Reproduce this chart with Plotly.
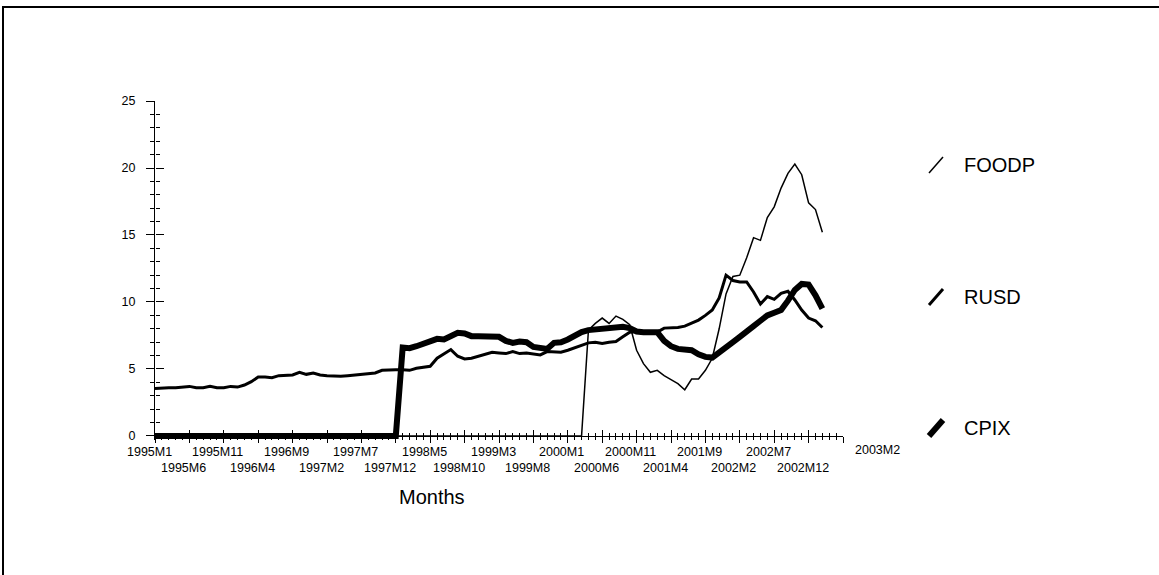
import plotly.graph_objects as go

# ---------------- data ----------------
months = [f"{1995 + i // 12}M{i % 12 + 1}" for i in range(98)]  # 1995M1 .. 2003M2

foodp = [0.0] * 63 + [
    7.9, 8.4, 8.8, 8.4, 8.95, 8.7, 8.3, 6.4, 5.4, 4.75,
    4.9, 4.5, 4.2, 3.9, 3.45, 4.25, 4.25, 4.9, 5.8, 8.0,
    10.6, 11.9, 12.0, 13.3, 14.8, 14.6, 16.3, 17.1, 18.5, 19.6,
    20.3, 19.5, 17.4, 16.9, 15.2]

rusd = [
    3.55, 3.6, 3.6, 3.6, 3.65, 3.7, 3.6, 3.6, 3.7, 3.6,
    3.6, 3.7, 3.65, 3.8, 4.05, 4.4, 4.4, 4.35, 4.5, 4.5,
    4.55, 4.75, 4.6, 4.7, 4.55, 4.5, 4.45, 4.45, 4.5, 4.55,
    4.6, 4.7, 4.7, 4.9, 4.95, 4.95, 4.95, 4.9, 5.05, 5.1,
    5.2, 5.8, 6.1, 6.45, 5.95, 5.75, 5.8, 5.95, 6.1, 6.25,
    6.2, 6.15, 6.3, 6.15, 6.2, 6.15, 6.05, 6.3, 6.25, 6.25,
    6.4, 6.6, 6.8, 6.95, 7.0, 6.9, 7.0, 7.05, 7.4, 7.75,
    7.8, 7.7, 7.75, 7.75, 8.05, 8.05, 8.1, 8.2, 8.4, 8.65,
    9.0, 9.4, 10.3, 12.0, 11.6, 11.5, 11.5, 10.75, 9.85, 10.4,
    10.2, 10.65, 10.8, 10.15, 9.4, 8.8, 8.6, 8.1]

cpix = [0.0] * 36 + [
    6.6, 6.55, 6.7, 6.85, 7.0, 7.25, 7.2, 7.4, 7.7, 7.65,
    7.45, 7.45, 7.45, 7.4, 7.4, 7.1, 6.95, 7.05, 7.0, 6.65,
    6.55, 6.5, 6.95, 7.0, 7.2, 7.5, 7.75, 7.9, 7.95, 8.0,
    8.05, 8.2, 8.15, 8.05, 7.8, 7.75, 7.8, 7.75, 7.1, 6.7,
    6.5, 6.45, 6.4, 6.1, 5.9, 5.85, 6.2, 6.6, 7.0, 7.4,
    7.75, 8.2, 8.6, 9.0, 9.2, 9.4, 10.1, 10.9, 11.35, 11.3,
    10.5, 9.5]

series_names = ["FOODP", "RUSD", "CPIX"]
series_values = [foodp, rusd, cpix]
tick_step = 5
y_tick_values = [0, 5, 10, 15, 20, 25]

# ---------------- layout constants ----------------
W, H = 1159, 575
L, R, T, B = 155, 316, 101, 135
PW, PH = W - L - R, H - T - B
YMIN, YMAX = -0.3, 25
XMIN, XMAX = 0, 100
FONT = "Liberation Sans, Arial, sans-serif"
widths = [1.5, 3, 6]


def px_x(px):
    return (px - L) / PW


def px_y(py):
    return (H - B - py) / PH


axis_pos = (0 - YMIN) / (YMAX - YMIN)  # paper y of value 0

fig = go.Figure()
for name, vals, w in zip(series_names, series_values, widths):
    fig.add_trace(go.Scatter(
        x=list(range(len(vals))), y=vals, mode="lines", name=name,
        line=dict(color="black", width=w), showlegend=False))

# dummy trace for the overlay axes that draw the inner half of the ticks
fig.add_trace(go.Scatter(x=[None], y=[None], xaxis="x2", yaxis="y2",
                         showlegend=False, hoverinfo="skip"))

major_x = list(range(0, XMAX + 1, tick_step))
common_x = dict(range=[XMIN, XMAX], tickmode="array", tickvals=major_x,
                showgrid=False, zeroline=False, tickcolor="black", tickwidth=1,
                anchor="free", position=axis_pos)
fig.update_layout(
    xaxis=dict(**common_x, showline=True, linecolor="black", linewidth=1,
               ticks="outside", ticklen=6, showticklabels=False,
               minor=dict(tickmode="linear", tick0=0, dtick=1, ticks="outside",
                          ticklen=3, tickcolor="black", tickwidth=1, showgrid=False)),
    xaxis2=dict(**common_x, overlaying="x", showline=False, ticks="inside",
                ticklen=6, showticklabels=False,
                minor=dict(tickmode="linear", tick0=0, dtick=1, ticks="inside",
                           ticklen=3, tickcolor="black", tickwidth=1, showgrid=False)),
    yaxis=dict(range=[YMIN, YMAX], tickmode="array", tickvals=y_tick_values,
               showgrid=False, zeroline=False, showline=True, linecolor="black",
               linewidth=1, ticks="outside", ticklen=8, tickcolor="black",
               tickwidth=1, ticklabelstandoff=8,
               tickfont=dict(family=FONT, size=12.5, color="black"),
               minor=dict(tickmode="linear", tick0=0, dtick=1, ticks="outside",
                          ticklen=4, tickcolor="black", tickwidth=1, showgrid=False)),
    yaxis2=dict(range=[YMIN, YMAX], overlaying="y", anchor="free", position=0,
                tickmode="array", tickvals=y_tick_values, showgrid=False,
                zeroline=False, showline=False, ticks="inside", ticklen=8,
                tickcolor="black", tickwidth=1, showticklabels=False,
                minor=dict(tickmode="linear", tick0=0, dtick=1, ticks="inside",
                           ticklen=4, tickcolor="black", tickwidth=1, showgrid=False)),
    width=W, height=H, autosize=False,
    margin=dict(l=L, r=R, t=T, b=B, pad=0),
    paper_bgcolor="white", plot_bgcolor="white",
    font=dict(family=FONT, color="black"),
)

annotations = []
# x tick labels, alternating rows
for k, idx in enumerate(major_x[:-1]):
    if idx >= len(months):
        break
    annotations.append(dict(x=idx, y=axis_pos, xref="x", yref="paper",
                            text=months[idx], showarrow=False, xanchor="center",
                            yanchor="middle", xshift=-6,
                            yshift=-16 if k % 2 == 0 else -32,
                            font=dict(family=FONT, size=12.5, color="black")))
# last month label at far right
annotations.append(dict(x=len(months) - 1, y=axis_pos, xref="x", yref="paper",
                        text=months[-1], showarrow=False, xanchor="center",
                        yanchor="middle", xshift=55, yshift=-14,
                        font=dict(family=FONT, size=12.5, color="black")))
# axis title
annotations.append(dict(x=px_x(432), y=px_y(497), xref="paper", yref="paper",
                        text="Months", showarrow=False, xanchor="center",
                        yanchor="middle", font=dict(family=FONT, size=20, color="black")))

shapes = []
legend_y = [165, 297, 428]
for name, w, cy in zip(series_names, widths, legend_y):
    annotations.append(dict(x=px_x(962), y=px_y(cy), xref="paper", yref="paper",
                            text=name, showarrow=False, xanchor="left",
                            yanchor="middle", font=dict(family=FONT, size=20, color="black")))
    shapes.append(dict(type="line", xref="paper", yref="paper",
                       x0=px_x(929), y0=px_y(cy + 8), x1=px_x(943), y1=px_y(cy - 8),
                       line=dict(color="black", width=w)))

# outer frame (top and left edges visible)
shapes.append(dict(type="path", xref="paper", yref="paper",
                   path=f"M {px_x(3)} {px_y(620)} L {px_x(3)} {px_y(7)} L {px_x(1200)} {px_y(7)}",
                   line=dict(color="black", width=2)))

fig.update_layout(annotations=annotations, shapes=shapes)
fig.write_html("out.html")
